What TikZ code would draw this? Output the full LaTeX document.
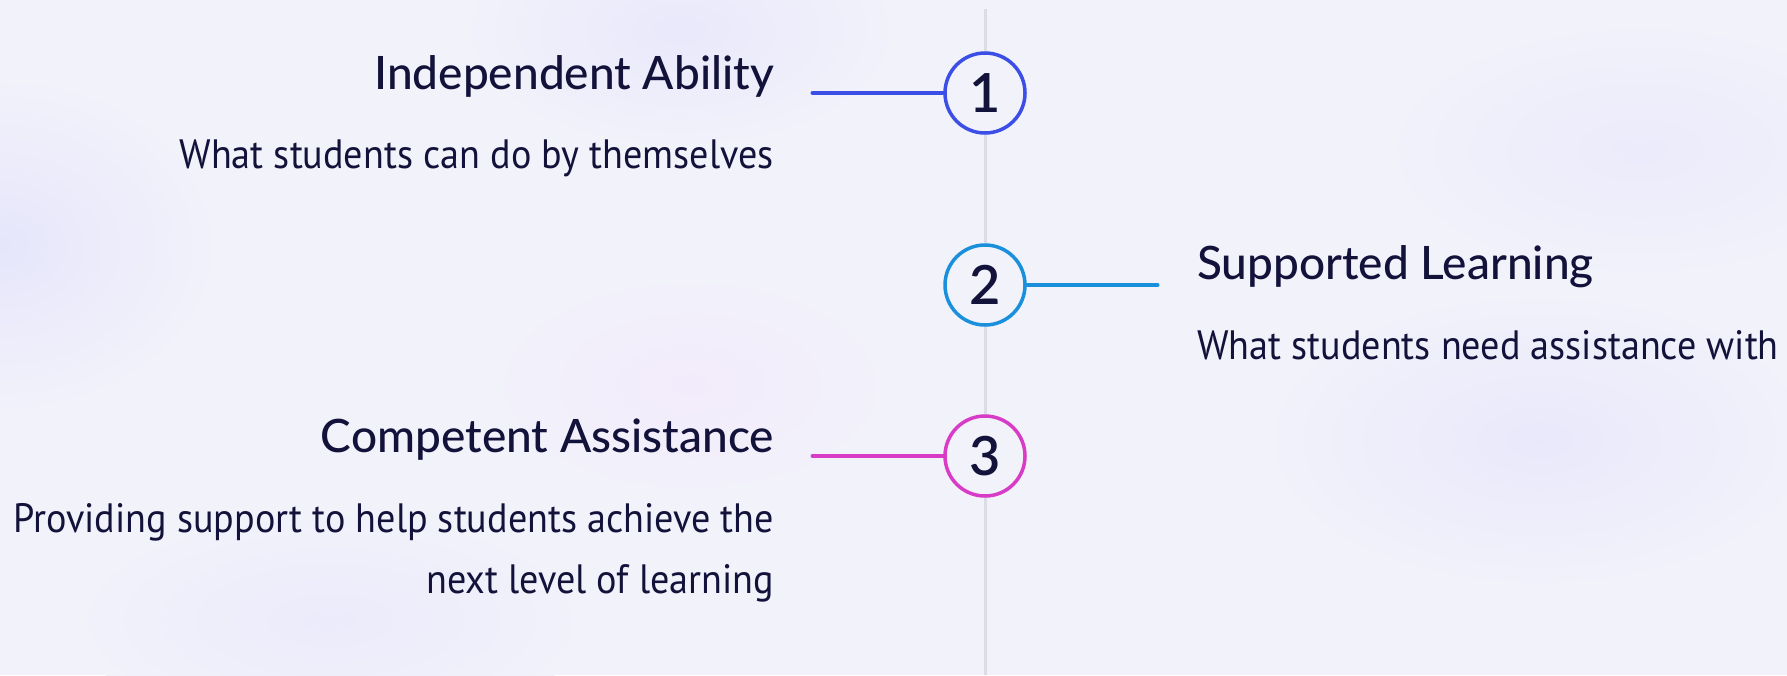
\documentclass[tikz,border=0pt]{standalone}
\usepackage{fontspec}
\setmainfont{PT Sans}
\newfontfamily\headfont{Lato Medium}
\newfontfamily\numfont{Lato Semibold}
\newfontfamily\bodyfont[FakeStretch=0.93]{PT Sans}
\usetikzlibrary{positioning}
\definecolor{page bg}{HTML}{F2F2FB}
\definecolor{ink}{HTML}{12123A}
\definecolor{spine}{HTML}{DCDCE6}
\definecolor{step one}{HTML}{3B4FE6}
\definecolor{step two}{HTML}{1A90DD}
\definecolor{step three}{HTML}{D83CC6}
\tikzset{
  marker/.style={circle, draw=#1, line width=3.5pt, fill=page bg, minimum size=80pt,
    inner sep=0pt, text=ink, font=\numfont\fontsize{54}{64}\selectfont},
  link/.style={draw=#1, line width=3.5pt, line cap=round},
  spineline/.style={draw=spine, line width=3pt},
  heading/.style={text=ink, inner sep=0pt, font=\headfont\fontsize{46}{56}\selectfont},
  blurb/.style={text=ink, inner sep=0pt, font=\bodyfont\fontsize{41}{61}\selectfont},
  blob/.style={inner color=#1, outer color=page bg}
}

\begin{document}
\begin{tikzpicture}[x=1pt, y=-1pt]
    \useasboundingbox (0,0) rectangle (1787,675);
    \clip (0,0) rectangle (1787,675);
    \fill[page bg] (0,0) rectangle (1787,675);
    % soft background blobs
    \shade[blob=blue!5!page bg] (0,245) ellipse (220 and 170);
    \shade[blob=blue!4!page bg] (680,30) ellipse (220 and 120);
    \shade[blob=blue!3!page bg] (1640,150) ellipse (260 and 130);
    \shade[blob=blue!4!page bg] (1540,440) ellipse (280 and 150);
    \shade[blob=magenta!3!page bg] (690,385) ellipse (200 and 110);
    \shade[blob=blue!3!page bg] (330,620) ellipse (260 and 110);

    % timeline
    \coordinate (spine top) at (985,9);
    \coordinate (spine end) at (985,675);
    \draw[spineline] (spine top) -- (spine end);

    \node[marker=step one] (m1) at (985,93) {1};
    \node[marker=step two] (m2) at (985,285) {2};
    \node[marker=step three] (m3) at (985,456) {3};

    \coordinate[left=131pt of m1.west] (l1);
    \coordinate[right=131pt of m2.east] (l2);
    \coordinate[left=131pt of m3.west] (l3);
    \draw[link=step one] (l1) -- (m1.west);
    \draw[link=step two] (m2.east) -- (l2);
    \draw[link=step three] (l3) -- (m3.west);

    % texts
    \node[heading, anchor=base east] (h1) at (774,89) {Independent Ability};
    \node[blurb, anchor=base east] (b1) at (774,168) {What students can do by themselves};
    \node[heading, anchor=base west] (h2) at (1197,279) {Supported Learning};
    \node[blurb, anchor=base west] (b2) at (1197,359) {What students need assistance with};
    \node[heading, anchor=base east] (h3) at (774,452) {Competent Assistance};
    \node[blurb, anchor=base east, align=right] (b3) at (774,593)
      {Providing support to help students achieve the\\next level of learning};
\end{tikzpicture}
\end{document}
